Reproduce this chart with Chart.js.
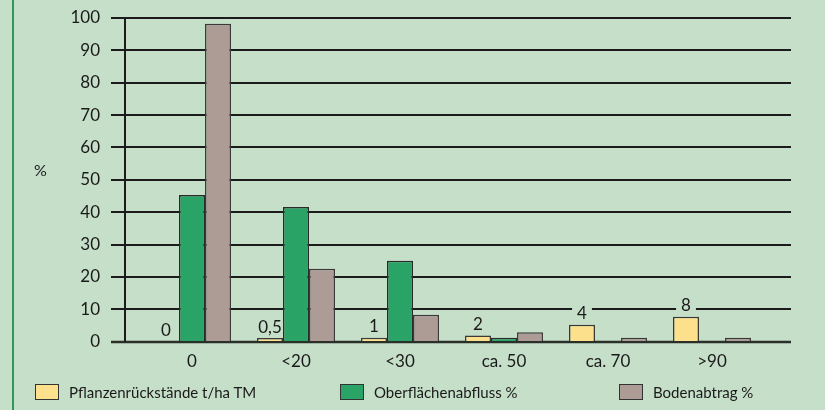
<!DOCTYPE html>
<html>
<head>
<meta charset="utf-8">
<script src="https://cdn.jsdelivr.net/npm/chart.js@4"></script>
<style>
  html, body { margin: 0; padding: 0; }
  body { width: 825px; height: 410px; background: #c6dfc9; position: relative; overflow: hidden; font-family: Lato, "Open Sans", sans-serif; }
  #frame { position: absolute; left: 12px; top: 0; width: 2px; height: 410px; background: #2e9a55; }
  #wrap { position: absolute; left: 0; top: 0; width: 825px; height: 410px; }
  #wrap canvas { display: block; }
  .yunit { position: absolute; left: 34px; top: 160px; font-size: 16px; color: #1a1a1a; }
  .leg { position: absolute; top: 384px; font-size: 15px; color: #1a1a1a; line-height: 17px; white-space: nowrap; }
  .leg span.box { display: inline-block; width: 22px; height: 14px; border: 1.5px solid #333; vertical-align: top; margin-right: 10px; }
</style>
</head>
<body>
<div id="frame"></div>
<div id="wrap"><canvas id="chart" width="825" height="410"></canvas></div>
<div class="yunit">%</div>
<div class="leg" style="left:35px"><span class="box" style="background:#fde08c"></span>Pflanzenrückstände t/ha TM</div>
<div class="leg" style="left:340px"><span class="box" style="background:#29a466"></span>Oberflächenabfluss %</div>
<div class="leg" style="left:619px"><span class="box" style="background:#ad9c95"></span>Bodenabtrag %</div>
<script>
// ── Data ──
var categories = ["0", "<20", "<30", "ca. 50", "ca. 70", ">90"];
var residueHeights = [0, 1.1, 1.2, 1.9, 5.2, 7.7];   // drawn height on % axis
var residueLabels = ["0", "0,5", "1", "2", "4", "8"]; // t/ha TM
var runoff = [45.3, 41.6, 25.0, 1.2, 0, 0];
var erosion = [98.2, 22.5, 8.3, 2.9, 1.2, 1.2];
var yTicks = [0, 10, 20, 30, 40, 50, 60, 70, 80, 90, 100];

var BG = "#c6dfc9";
var LINE = "#1b1b1b";

// gridlines run past the category area on both sides; value labels sit on them
var gridPlugin = {
  id: "grid",
  beforeDatasetsDraw: function (chart) {
    var ctx = chart.ctx, y = chart.scales.y, a = chart.chartArea;
    var x0 = a.left - 29, x1 = a.right + 27;
    ctx.save();
    yTicks.forEach(function (v) {
      var py = Math.round(y.getPixelForValue(v));
      ctx.strokeStyle = v === 0 ? "#2a2f2a" : LINE;
      ctx.lineWidth = v === 0 ? 2.5 : 2;
      ctx.beginPath();
      ctx.moveTo(x0, py);
      ctx.lineTo(x1, py);
      ctx.stroke();
    });
    ctx.strokeStyle = LINE;
    ctx.lineWidth = 2;
    ctx.beginPath();
    ctx.moveTo(a.left - 15, y.getPixelForValue(100));
    ctx.lineTo(a.left - 15, y.getPixelForValue(0));
    ctx.stroke();

    // labels for the residue series
    var meta = chart.getDatasetMeta(0);
    ctx.font = "17px Lato, 'Open Sans', sans-serif";
    ctx.textAlign = "center";
    ctx.textBaseline = "middle";
    meta.data.forEach(function (bar, i) {
      var txt = residueLabels[i];
      var cy = y.getPixelForValue(residueHeights[i]) - 11;
      var w = ctx.measureText(txt).width + 10;
      ctx.fillStyle = BG;
      ctx.fillRect(bar.x - w / 2, cy - 8, w, 16);
      ctx.fillStyle = "#1a1a1a";
      ctx.fillText(txt, bar.x, cy);
    });
    ctx.restore();
  },
};

new Chart(document.getElementById("chart").getContext("2d"), {
  type: "bar",
  data: {
    labels: categories,
    datasets: [
      { label: "Pflanzenrückstände t/ha TM", data: residueHeights, backgroundColor: "#fde08c", borderColor: "#3a3a3a", borderWidth: 1.5 },
      { label: "Oberflächenabfluss %", data: runoff, backgroundColor: "#29a466", borderColor: "#2a2a2a", borderWidth: 1.5 },
      { label: "Bodenabtrag %", data: erosion, backgroundColor: "#ad9c95", borderColor: "#3a3a3a", borderWidth: 1.5 },
    ],
  },
  options: {
    responsive: false,
    animation: false,
    layout: { padding: { left: 50, right: 61, top: 18, bottom: 28 } },
    plugins: { legend: { display: false }, tooltip: { enabled: false } },
    datasets: { bar: { categoryPercentage: 0.75, barPercentage: 1.0 } },
    scales: {
      x: {
        grid: { display: false, drawTicks: false },
        border: { display: false },
        ticks: { color: "#1a1a1a", font: { size: 17, family: "Lato, 'Open Sans', sans-serif" }, padding: 10, maxRotation: 0 },
      },
      y: {
        min: 0, max: 100,
        grid: { display: true, drawOnChartArea: false, drawTicks: true, tickLength: 36, color: "rgba(0,0,0,0)" },
        border: { display: false },
        ticks: { stepSize: 10, color: "#1a1a1a", font: { size: 17, family: "Lato, 'Open Sans', sans-serif" }, padding: 4 },
        afterFit: function (s) { s.width = 90; },
      },
    },
  },
  plugins: [gridPlugin],
});
</script>
</body>
</html>
